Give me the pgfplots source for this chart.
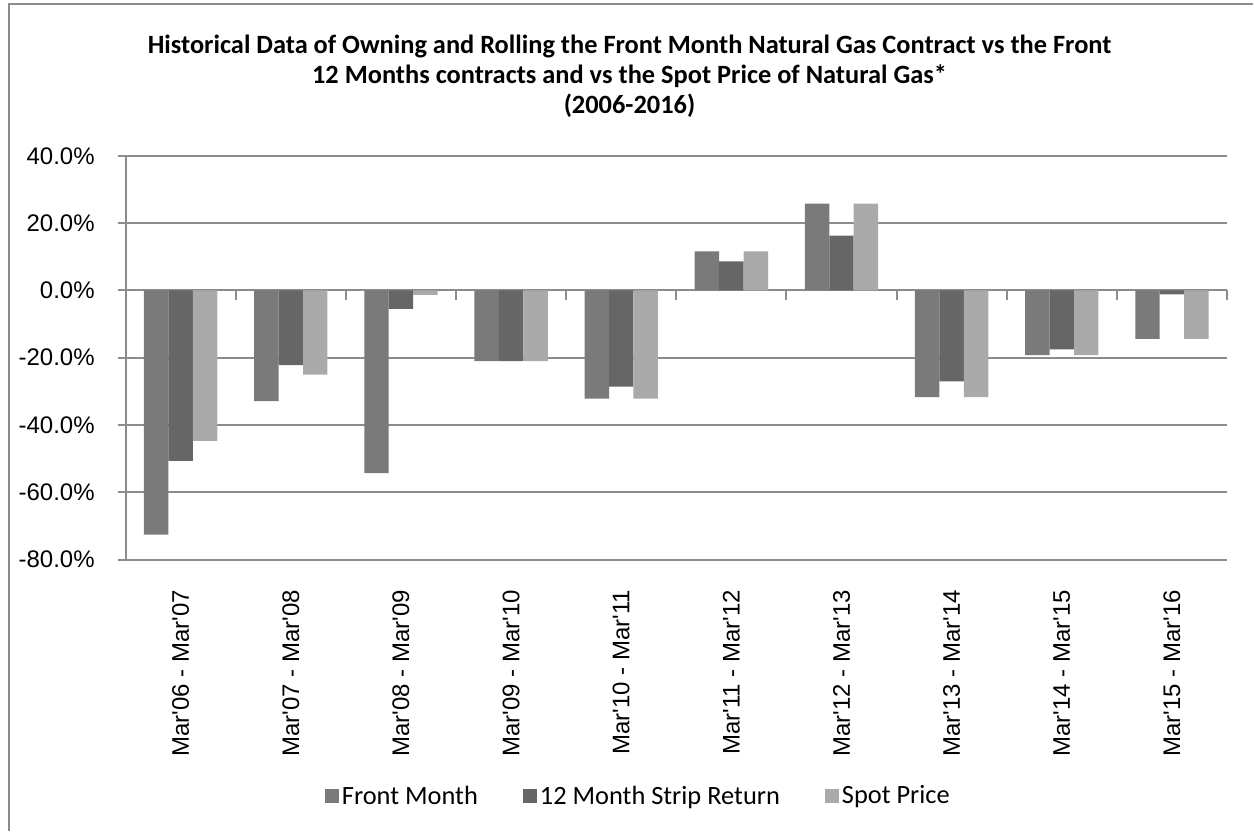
\documentclass[border=0pt]{standalone}
\usepackage{pgfplots}
\pgfplotsset{compat=1.18}
\usepackage{fontspec}
\setmainfont{Liberation Sans}
\newfontfamily\calfont{Carlito}

\definecolor{fmc}{HTML}{7A7A7A}
\definecolor{stripc}{HTML}{666666}
\definecolor{spotc}{HTML}{AAAAAA}
\definecolor{gridc}{HTML}{8C8C8C}

\begin{document}
\begin{tikzpicture}
\begin{axis}[
  name=ax,
  scale only axis,
  width=551.15pt, height=202pt,
  xmin=-0.5, xmax=9.5,
  ymin=-80, ymax=40,
  ytick={-80,-60,...,40},
  xtick={0,...,9},
  xticklabels={Mar\textquotesingle06 - Mar\textquotesingle07,Mar\textquotesingle07 - Mar\textquotesingle08,Mar\textquotesingle08 - Mar\textquotesingle09,Mar\textquotesingle09 - Mar\textquotesingle10,Mar\textquotesingle10 - Mar\textquotesingle11,Mar\textquotesingle11 - Mar\textquotesingle12,Mar\textquotesingle12 - Mar\textquotesingle13,Mar\textquotesingle13 - Mar\textquotesingle14,Mar\textquotesingle14 - Mar\textquotesingle15,Mar\textquotesingle15 - Mar\textquotesingle16},
  separate axis lines,
  axis y line*=left,
  x axis line style={draw=none},
  y axis line style={gridc, line width=1pt},
  xtick style={draw=none},
  ytick style={gridc, line width=1pt},
  tick align=outside,
  major tick length=4pt,
  ymajorgrids,
  grid style={gridc, line width=1pt},
  /pgf/number format/assume math mode=true,
  yticklabel={\pgfmathprintnumber[fixed,fixed zerofill,precision=1]{\tick}\%},
  tick label style={font=\fontsize{12}{14}\selectfont},
  yticklabel style={anchor=east, inner sep=0pt},
  yticklabel shift=11.3pt,
  xticklabel style={rotate=90, anchor=east, inner sep=0pt},
  xticklabel shift=11pt,
  ybar, bar width=0.222,
  clip=false,
  title={Historical Data of Owning and Rolling the Front Month Natural Gas Contract vs the Front\\12 Months contracts and vs the Spot Price of Natural Gas*\\(2006-2016)},
  title style={at={(axis description cs:0.4575,1.167)}, anchor=center, align=center,
    font=\calfont\bfseries\fontsize{13.2}{15}\selectfont},
  legend columns=3,
  legend style={at={(axis description cs:0.466,-0.5866)}, anchor=center, draw=none,
    font=\calfont\fontsize{13.2}{15}\selectfont,
    nodes={inner xsep=1.5pt},
    /tikz/every even column/.append style={column sep=21pt}},
  legend image code/.code={\fill[#1] (0pt,-3.5pt) rectangle (7pt,3.5pt);},
]
\addplot[fill=fmc, draw=none, bar shift=-0.222] coordinates {
(0,-72.6) (1,-32.9) (2,-54.3) (3,-21.0) (4,-32.2) (5,11.6) (6,25.8) (7,-31.7) (8,-19.2) (9,-14.4)};
\addplot[fill=stripc, draw=none, bar shift=0] coordinates {
(0,-50.7) (1,-22.2) (2,-5.5) (3,-21.0) (4,-28.6) (5,8.6) (6,16.3) (7,-27.0) (8,-17.5) (9,-1.2)};
\addplot[fill=spotc, draw=none, bar shift=0.222] coordinates {
(0,-44.7) (1,-25.0) (2,-1.3) (3,-21.0) (4,-32.2) (5,11.6) (6,25.8) (7,-31.7) (8,-19.2) (9,-14.4)};
\legend{Front Month,12 Month Strip Return,Spot Price}
% small category separators on the zero line
\pgfplotsinvokeforeach{0.5,1.5,...,9.5}{
  \draw[gridc, line width=1pt] (axis cs:#1,0) -- ++(0pt,-5pt);
}
\end{axis}
\draw[gridc, line width=1pt] ([xshift=-58.35pt,yshift=-136pt]ax.south west)
  -- ([xshift=-58.35pt,yshift=278pt]ax.south west)
  -- ([xshift=564.15pt,yshift=278pt]ax.south west);
\path ([xshift=-62.85pt,yshift=-136pt]ax.south west) rectangle ([xshift=564.15pt,yshift=280pt]ax.south west);
\end{tikzpicture}
\end{document}
